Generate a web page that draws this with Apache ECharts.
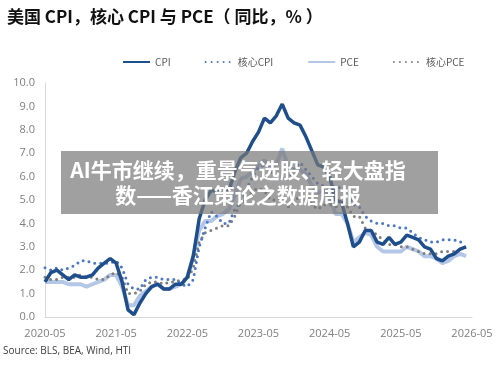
<!DOCTYPE html>
<html>
<head>
<meta charset="utf-8">
<script src="https://cdn.jsdelivr.net/npm/echarts@6/dist/echarts.min.js"></script>
<style>
  html, body { margin: 0; padding: 0; background: #fff; }
  #chart { width: 500px; height: 365px; }
</style>
</head>
<body>
<div id="chart"></div>
<script>
// x axis: monthly categories, a label every 12 months
var startYear = 2020, startMonth = 5, monthCount = 73
var tickLabels = ['2020-05', '2021-05', '2022-05', '2023-05', '2024-05', '2025-05', '2026-05']

// yoy, %
var cpi = [
  1.5, 1.9, 2.0, 1.8, 1.6, 1.8, 1.7, 1.7, 1.8, 2.1, 2.3, 2.5,
  2.3, 1.5, 0.3, 0.1, 0.6, 1.0, 1.3, 1.4, 1.2, 1.2, 1.4, 1.4,
  1.7, 2.6, 4.2, 5.0, 5.4, 5.4, 5.3, 5.4, 6.2, 6.8, 7.0, 7.5,
  7.9, 8.5, 8.3, 8.6, 9.1, 8.5, 8.3, 8.2, 7.7, 7.1, 6.5, 6.4,
  6.0, 5.0, 4.9, 4.0, 3.0, 3.2, 3.7, 3.7, 3.2, 3.1, 3.4, 3.1,
  3.2, 3.5, 3.4, 3.3, 3.0, 2.9, 2.5, 2.4, 2.6, 2.7, 2.9, 3.0
]
var coreCpi = [
  2.1, 2.0, 2.1, 2.0, 2.1, 2.2, 2.4, 2.4, 2.3, 2.3, 2.3, 2.3,
  2.4, 2.1, 1.4, 1.2, 1.2, 1.6, 1.7, 1.7, 1.6, 1.6, 1.6, 1.4,
  1.3, 1.6, 3.0, 3.8, 4.5, 4.3, 4.0, 4.0, 4.6, 4.9, 5.5, 6.0,
  6.4, 6.5, 6.2, 6.0, 5.9, 5.9, 6.3, 6.6, 6.3, 6.0, 5.7, 5.6,
  5.5, 5.6, 5.5, 5.3, 4.8, 4.7, 4.3, 4.1, 4.0, 4.0, 3.9, 3.9,
  3.8, 3.8, 3.6, 3.4, 3.3, 3.2, 3.2, 3.3, 3.3, 3.3, 3.2, 3.3
]
var pce = [
  1.5, 1.5, 1.5, 1.5, 1.4, 1.4, 1.4, 1.3, 1.4, 1.5, 1.6, 1.8,
  1.8, 1.3, 0.5, 0.5, 0.9, 1.1, 1.3, 1.4, 1.2, 1.2, 1.3, 1.4,
  1.7, 2.6, 3.7, 4.1, 4.1, 4.3, 4.4, 4.6, 5.2, 5.9, 6.0, 6.2,
  6.5, 6.7, 6.4, 6.5, 7.2, 6.4, 6.3, 6.3, 6.1, 5.6, 5.3, 5.4,
  5.1, 4.4, 4.4, 4.0, 3.2, 3.4, 3.6, 3.5, 3.0, 2.8, 2.8, 2.8,
  2.8, 3.0, 2.9, 2.8, 2.6, 2.6, 2.5, 2.3, 2.4, 2.6, 2.7, 2.6
]
var corePce = [
  1.7, 1.6, 1.6, 1.7, 1.7, 1.7, 1.8, 1.7, 1.7, 1.6, 1.6, 1.8,
  1.9, 1.7, 1.0, 1.0, 1.1, 1.4, 1.5, 1.5, 1.4, 1.5, 1.5, 1.6,
  1.6, 2.1, 3.2, 3.6, 3.7, 3.8, 3.9, 3.9, 4.3, 4.9, 5.0, 5.4,
  5.5, 5.4, 5.0, 5.0, 5.0, 4.7, 4.9, 5.2, 5.1, 4.8, 4.6, 4.8,
  4.8, 4.7, 4.8, 4.7, 4.3, 4.3, 3.8, 3.7, 3.5, 3.3, 3.1, 3.1,
  3.0, 3.0, 2.9, 2.8, 2.7, 2.7, 2.7, 2.8, 2.8, 2.8, 2.9, 3.0
]

var months = []
for (var i = 0; i < monthCount; i++) {
  var m = startMonth - 1 + i
  var y = startYear + Math.floor(m / 12)
  var mm = (m % 12) + 1
  months.push(y + '-' + (mm < 10 ? '0' + mm : mm))
}

var cjk = '"Noto Sans CJK SC", "Noto Sans", sans-serif'
var latin = '"Open Sans", "Noto Sans", sans-serif'

var chart = echarts.init(document.getElementById('chart'))

chart.setOption({
  animation: false,
  title: {
    text: '美国 CPI，核心 CPI 与 PCE（ 同比，% ）',
    left: 2,
    top: 3,
    textStyle: {
      fontFamily: cjk,
      fontSize: 17,
      fontWeight: 'bold',
      color: '#111'
    }
  },
  legend: {
    top: 52,
    left: 117,
    itemWidth: 27,
    itemHeight: 10,
    itemGap: 34,
    itemStyle: { opacity: 0 },
    textStyle: { fontFamily: cjk, fontSize: 10, color: '#595959' },
    data: ['CPI', '核心CPI', 'PCE', '核心PCE']
  },
  grid: {
    left: 45,
    right: 28,
    top: 83,
    bottom: 48
  },
  xAxis: {
    type: 'category',
    data: months,
    boundaryGap: false,
    axisLine: { lineStyle: { color: '#d9d9d9', width: 1 } },
    axisTick: { show: false },
    axisLabel: {
      fontFamily: latin,
      fontSize: 11,
      color: '#7f7f7f',
      margin: 11,
      interval: function(index, value) {
        return tickLabels.indexOf(value) >= 0
      }
    },
    splitLine: { show: false }
  },
  yAxis: {
    type: 'value',
    min: 0,
    max: 10,
    interval: 1,
    axisLine: { show: true, lineStyle: { color: '#d9d9d9', width: 1 } },
    axisTick: { show: false },
    splitLine: { show: false },
    axisLabel: {
      fontFamily: latin,
      fontSize: 11,
      color: '#7f7f7f',
      margin: 10,
      formatter: function(v) { return v.toFixed(1) }
    }
  },
  series: [
    {
      name: 'PCE',
      type: 'line',
      data: pce,
      symbol: 'none',
      z: 1,
      lineStyle: { color: '#b4c7e7', width: 4 },
      itemStyle: { color: '#b4c7e7' }
    },
    {
      name: '核心PCE',
      type: 'line',
      data: corePce,
      symbol: 'none',
      z: 2,
      lineStyle: { color: '#7f7f7f', width: 3, type: [0, 6], cap: 'round' },
      itemStyle: { color: '#7f7f7f' }
    },
    {
      name: '核心CPI',
      type: 'line',
      data: coreCpi,
      symbol: 'none',
      z: 3,
      lineStyle: { color: '#4a78c8', width: 3, type: [0, 6], cap: 'round' },
      itemStyle: { color: '#4a78c8' }
    },
    {
      name: 'CPI',
      type: 'line',
      data: cpi,
      symbol: 'none',
      z: 4,
      lineStyle: { color: '#1f4e8c', width: 3.5 },
      itemStyle: { color: '#1f4e8c' }
    }
  ],
  graphic: [
    {
      type: 'text',
      left: 3,
      top: 346,
      style: {
        text: 'Source: BLS, BEA, Wind, HTI',
        font: '10px ' + latin,
        fill: '#404040'
      }
    },
    {
      type: 'rect',
      shape: { x: 61, y: 151, width: 377, height: 63 },
      style: { fill: 'rgba(120,120,120,0.7)' },
      z: 100
    },
    {
      type: 'text',
      x: 238,
      y: 170,
      z: 101,
      style: {
        text: 'AI牛市继续，重景气选股、轻大盘指',
        font: 'bold 21px ' + cjk,
        fill: '#fff',
        align: 'center',
        verticalAlign: 'middle'
      }
    },
    {
      type: 'text',
      x: 238,
      y: 195,
      z: 101,
      style: {
        text: '数——香江策论之数据周报',
        font: 'bold 21px ' + cjk,
        fill: '#fff',
        align: 'center',
        verticalAlign: 'middle'
      }
    }
  ]
})
</script>
</body>
</html>
